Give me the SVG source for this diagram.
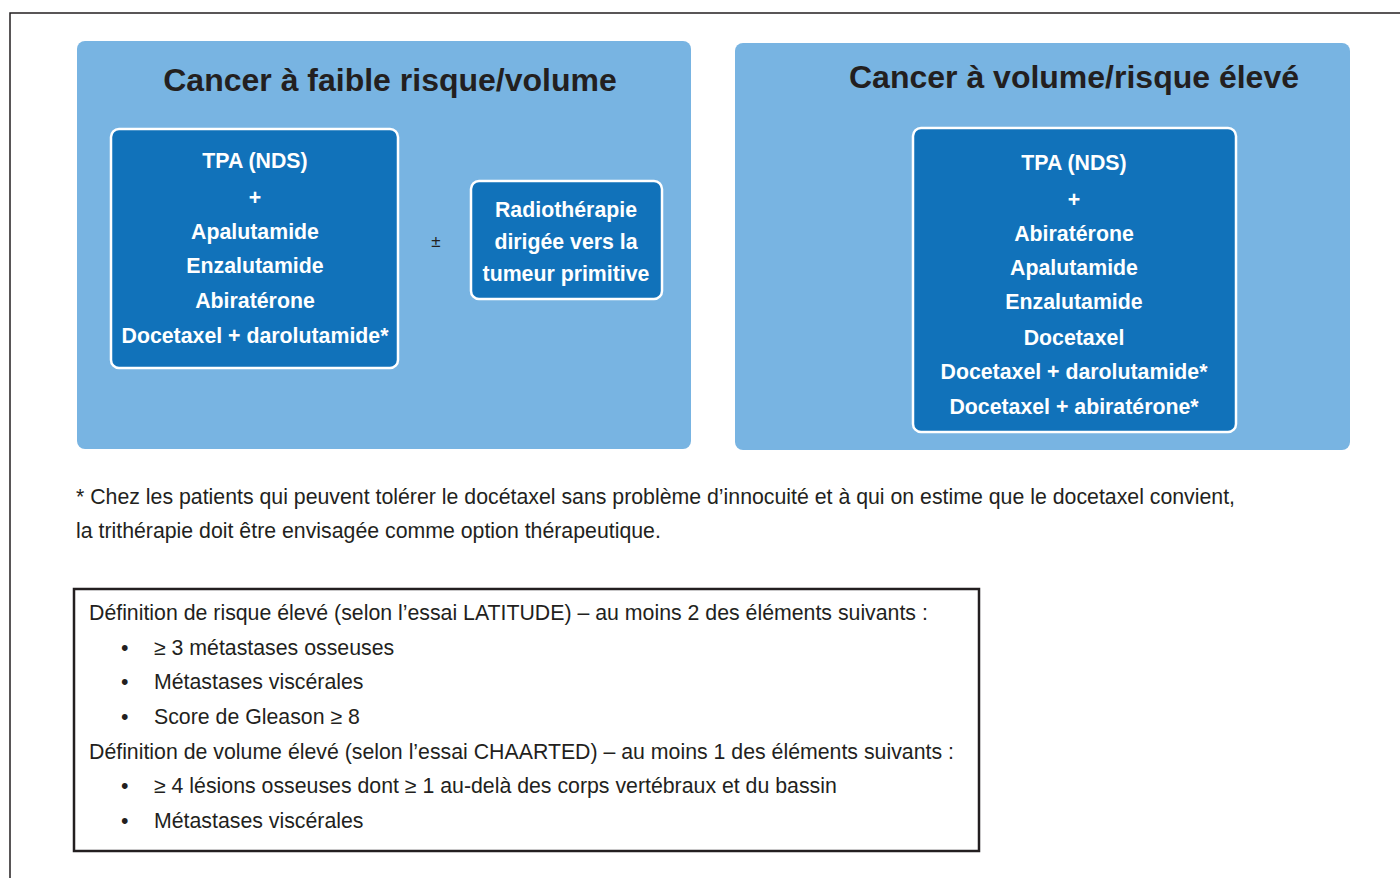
<svg xmlns="http://www.w3.org/2000/svg" width="1400" height="878" viewBox="0 0 1400 878">
<style>
.panel{fill:#78B4E2}
.node{fill:#1172BA;stroke:#fff;stroke-width:2.5}
.title{font-family:"Liberation Sans",Arial,sans-serif;font-weight:bold;font-size:32px;fill:#231f20;text-anchor:middle}
.nt{font-family:"Liberation Sans",Arial,sans-serif;font-weight:bold;font-size:21.3px;fill:#fff;text-anchor:middle}
.body{font-family:"Liberation Sans",Arial,sans-serif;font-size:21.3px;fill:#231f20}
</style>
<rect width="1400" height="878" fill="#fff"/>
<path d="M10,878 V13 H1400" fill="none" stroke="#231f20" stroke-width="1.5"/>
<g id="panel-left">
<rect class="panel" x="77" y="41" width="614" height="408" rx="8"/>
<text class="title" x="390" y="91">Cancer à faible risque/volume</text>
</g>
<g id="panel-right">
<rect class="panel" x="735" y="43" width="615" height="407" rx="8"/>
<text class="title" x="1074" y="88">Cancer à volume/risque élevé</text>
</g>
<g id="node-left">
<rect class="node" x="111" y="129" width="287" height="239" rx="8"/>
<text class="nt" x="255" y="168">TPA (NDS)</text>
<text class="nt" x="255" y="205">+</text>
<text class="nt" x="255" y="239">Apalutamide</text>
<text class="nt" x="255" y="273">Enzalutamide</text>
<text class="nt" x="255" y="308">Abiratérone</text>
<text class="nt" x="255" y="343">Docetaxel + darolutamide*</text>
</g>
<g id="pm">
<text class="body" x="436" y="247" style="font-size:17px" text-anchor="middle">±</text>
</g>
<g id="node-radio">
<rect class="node" x="471" y="181" width="191" height="118" rx="8"/>
<text class="nt" x="566" y="217">Radiothérapie</text>
<text class="nt" x="566" y="249">dirigée vers la</text>
<text class="nt" x="566" y="281">tumeur primitive</text>
</g>
<g id="node-right">
<rect class="node" x="913" y="128" width="323" height="304" rx="8"/>
<text class="nt" x="1074" y="170">TPA (NDS)</text>
<text class="nt" x="1074" y="207">+</text>
<text class="nt" x="1074" y="241">Abiratérone</text>
<text class="nt" x="1074" y="275">Apalutamide</text>
<text class="nt" x="1074" y="309">Enzalutamide</text>
<text class="nt" x="1074" y="345">Docetaxel</text>
<text class="nt" x="1074" y="379">Docetaxel + darolutamide*</text>
<text class="nt" x="1074" y="414">Docetaxel + abiratérone*</text>
</g>
<g id="footnote">
<text class="body" x="76" y="504">* Chez les patients qui peuvent tolérer le docétaxel sans problème d’innocuité et à qui on estime que le docetaxel convient,</text>
<text class="body" x="76" y="538">la trithérapie doit être envisagée comme option thérapeutique.</text>
</g>
<g id="definitions">
<rect x="74" y="589" width="905" height="262" fill="none" stroke="#231f20" stroke-width="2.5"/>
<text class="body" x="89" y="620">Définition de risque élevé (selon l’essai LATITUDE) – au moins 2 des éléments suivants :</text>
<text class="body" x="121" y="655">•</text><text class="body" x="154" y="655">≥ 3 métastases osseuses</text>
<text class="body" x="121" y="689">•</text><text class="body" x="154" y="689">Métastases viscérales</text>
<text class="body" x="121" y="724">•</text><text class="body" x="154" y="724">Score de Gleason ≥ 8</text>
<text class="body" x="89" y="759">Définition de volume élevé (selon l’essai CHAARTED) – au moins 1 des éléments suivants :</text>
<text class="body" x="121" y="793">•</text><text class="body" x="154" y="793">≥ 4 lésions osseuses dont ≥ 1 au-delà des corps vertébraux et du bassin</text>
<text class="body" x="121" y="828">•</text><text class="body" x="154" y="828">Métastases viscérales</text>
</g>
</svg>
